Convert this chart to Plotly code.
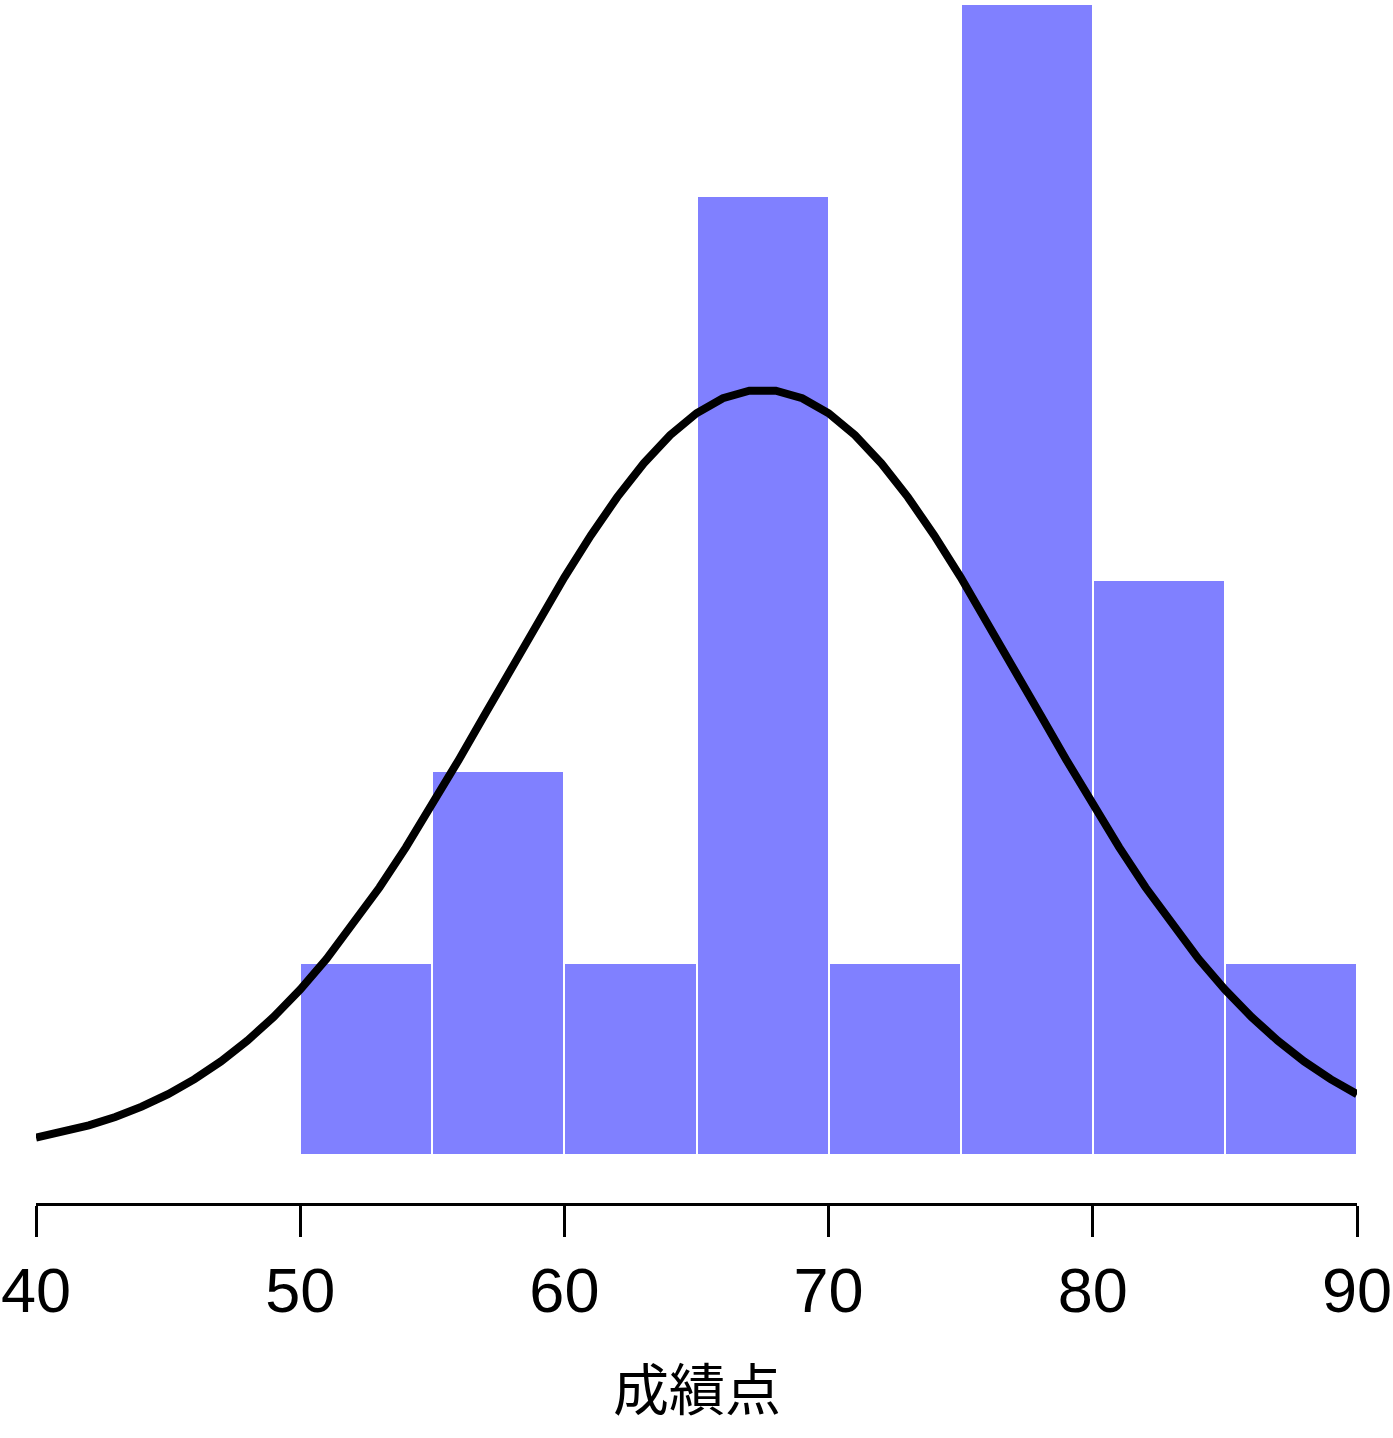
import numpy as np
import plotly.graph_objects as go

# Histogram bins (score) and counts
bin_left = [50, 55, 60, 65, 70, 75, 80, 85]
counts = [1, 2, 1, 5, 1, 6, 3, 1]
bin_width = 5
# normal curve parameters
curve_mean = 67.5
curve_sd = 10.0
tick_vals = [40, 50, 60, 70, 80, 90]
x_label = "成績点"

n = sum(counts)
density = [c / (n * bin_width) for c in counts]
mids = [b + bin_width / 2 for b in bin_left]

xc = np.arange(40, 91, 1.0)
yc = np.exp(-((xc - curve_mean) ** 2) / (2 * curve_sd ** 2)) / (curve_sd * np.sqrt(2 * np.pi))

fig = go.Figure()
fig.add_trace(go.Bar(
    x=mids, y=density, width=bin_width,
    marker=dict(color="#8080FF", line=dict(color="white", width=2)),
    showlegend=False,
))
fig.add_trace(go.Scatter(
    x=xc, y=yc, mode="lines",
    line=dict(color="black", width=8),
    showlegend=False,
))

fig.add_annotation(
    text=x_label, xref="paper", yref="paper", x=0.5, y=-0.152,
    xanchor="center", yanchor="middle", showarrow=False,
    font=dict(size=56, family="Noto Sans CJK JP, sans-serif", color="black"),
)

fig.update_layout(
    width=1393, height=1438,
    margin=dict(l=36, r=36, t=4, b=235, autoexpand=False),
    plot_bgcolor="white", paper_bgcolor="white",
    bargap=0,
    font=dict(family="Liberation Sans, Arial, sans-serif", color="black"),
    xaxis=dict(
        range=[40, 90], tickvals=tick_vals, ticktext=[str(v) for v in tick_vals],
        ticks="outside", ticklen=31, tickwidth=2.5, tickcolor="black",
        showline=True, linecolor="black", linewidth=2.5,
        showgrid=False, zeroline=False, automargin=False,
        tickfont=dict(size=63, family="Liberation Sans, Arial, sans-serif"),
    ),
    yaxis=dict(
        range=[-0.0025, 0.06], visible=False, showgrid=False, zeroline=False,
        automargin=False,
    ),
)

fig.write_html("out.html", config={"displayModeBar": False},
               post_script="document.body.style.margin='0';document.body.style.overflow='hidden';")
